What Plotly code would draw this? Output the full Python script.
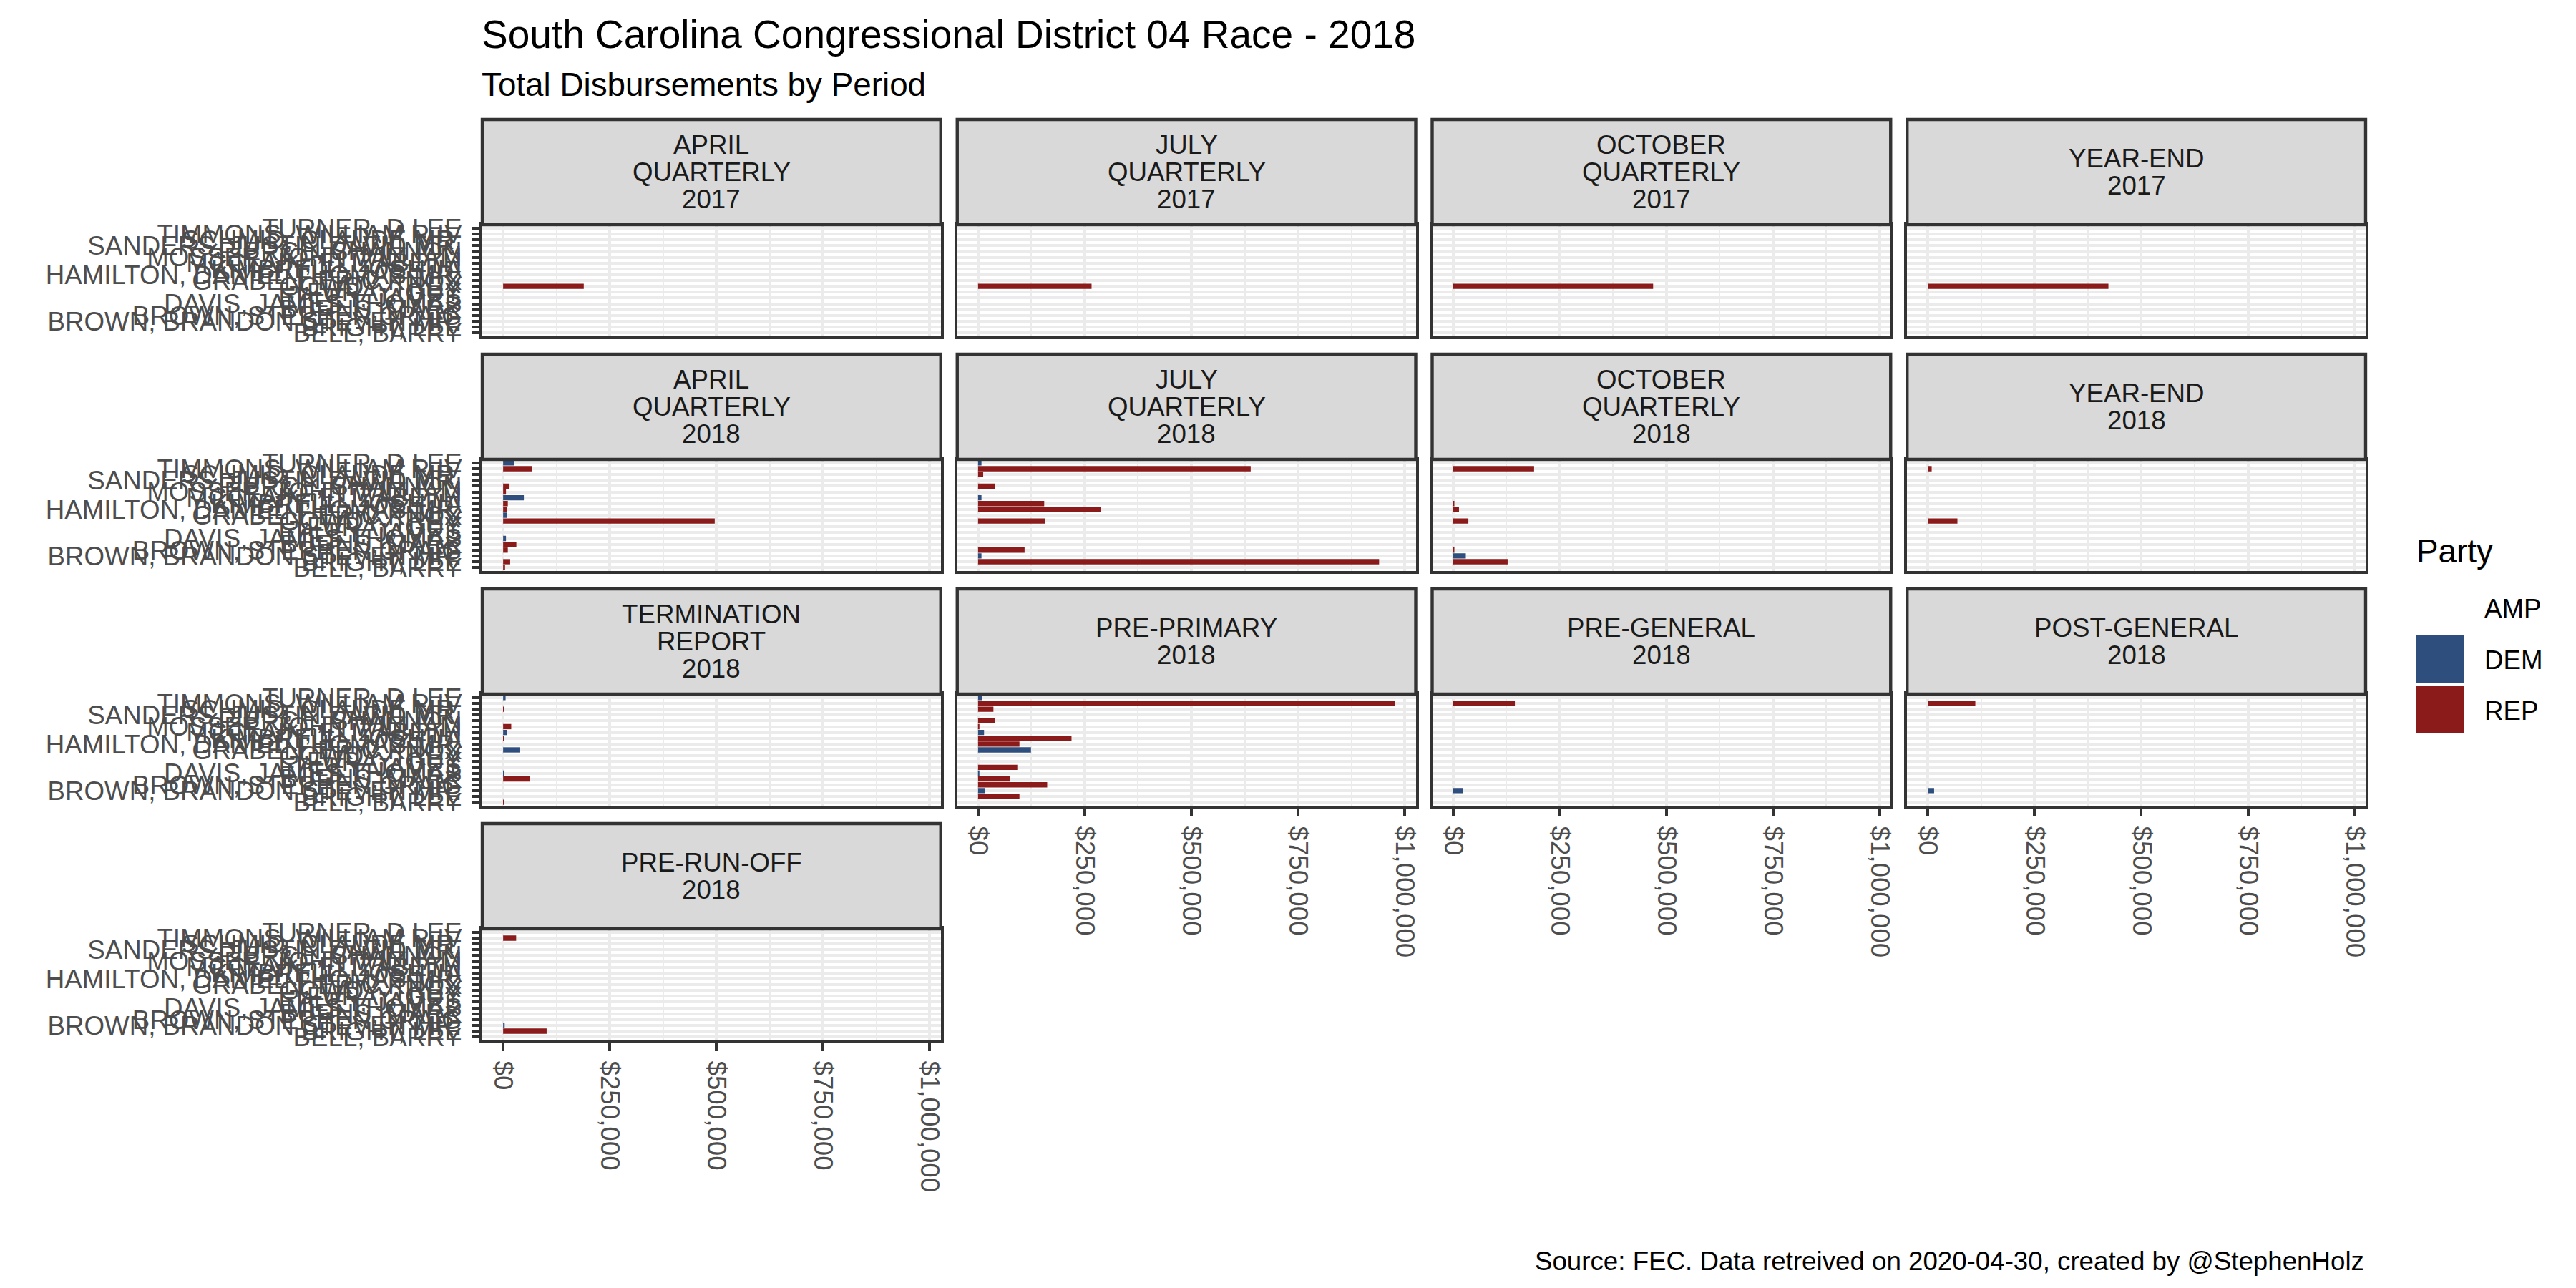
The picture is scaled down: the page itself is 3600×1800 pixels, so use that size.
import plotly.graph_objects as go

# ---------------- data ----------------
# candidates from bottom (first factor level) to top
candidates = [
    "BELL, BARRY",
    "BRIGHT, LEE",
    "BROWN, BRANDON STEVEN MR.",
    "BROWN, STEPHEN CRAIG",
    "BURNS, MARK",
    "DAVIS, JAMES THOMAS",
    "EPLEY, JAMES",
    "FURAY, GUY",
    "GOWDY, TREY",
    "GRABEN, ERIC KNOX",
    "HAMILTON, DANIEL THOMAS MR.",
    "KIMBRELL, JOSHUA",
    "MCCLAIN, ELIZABETH",
    "MOSSER, JOHN WILLIAM",
    "PIERCE, SHANNON",
    "SANDERS, JUSTIN DAVID MR.",
    "SCHMID, CLAUDE MR.",
    "TIMMONS, WILLIAM R IV",
    "TURNER, D LEE",
]
party = ["REP", "REP", "DEM", "REP", "REP", "DEM", "REP", "AMP", "REP", "DEM",
         "REP", "REP", "DEM", "REP", "REP", "REP", "REP", "REP", "DEM"]

#                 BELL  BRIGHT  BROWN_B BROWN_S BURNS  DAVIS  EPLEY FURAY GOWDY  GRABEN HAMILT KIMBR  MCCL   MOSSER PIERCE SAND SCHMID TIMMONS TURNER
apr_q_2017     = [0,    0,      0,      0,      0,     0,     0,    0,    189000, 0,    0,     0,     0,     0,     0,     0,   0,     0,      0]
jul_q_2017     = [0,    0,      0,      0,      0,     0,     0,    0,    266000, 0,    0,     0,     0,     0,     0,     0,   0,     0,      0]
oct_q_2017     = [0,    0,      0,      0,      0,     0,     0,    0,    469000, 0,    0,     0,     0,     0,     0,     0,   0,     0,      0]
ye_2017        = [0,    0,      0,      0,      0,     0,     0,    0,    423000, 0,    0,     0,     0,     0,     0,     0,   0,     0,      0]
apr_q_2018     = [4500, 16500,  0,      11000,  31000, 6700,  0,    0,    496000, 8200, 9700,  11000, 48600, 6700,  15000, 0,   0,     68000,  26000]
jul_q_2018     = [0,    940000, 8000,   109000, 0,     0,     0,    0,    157000, 0,    287000,155000,8000,  0,     39000, 0,   12000, 639000, 8000]
oct_q_2018     = [0,    128000, 30000,  3000,   0,     0,     0,    0,    36000,  0,    14000, 3000,  0,     0,     0,     0,   0,     190000, 0]
ye_2018        = [0,    0,      0,      0,      0,     0,     0,    0,    69000,  0,    0,     0,     0,     0,     0,     0,   0,     8700,   0]
term_2018      = [1000, 0,      0,      0,      63000, 1000,  0,    0,    0,      40000,0,     2900,  8700,  19000, 0,     0,   1400,  0,      5800]
pre_primary    = [0,    97000,  17000,  162000, 74000, 1500,  92000,0,    0,      124000,97000,219000,14000, 2000,  40000, 0,   36000, 977000, 10000]
pre_general    = [0,    0,      23000,  0,      0,     0,     0,    0,    0,      0,    0,     0,     0,     0,     0,     0,   0,     145000, 0]
post_general   = [0,    0,      14400,  0,      0,     0,     0,    0,    0,      0,    0,     0,     0,     0,     0,     0,   0,     111000, 0]
pre_runoff     = [0,    102000, 3600,   0,      0,     0,     0,    0,    0,      0,    0,     0,     0,     0,     0,     0,   0,     30500,  0]

period_labels = [
    "APRIL\nQUARTERLY\n2017", "JULY\nQUARTERLY\n2017", "OCTOBER\nQUARTERLY\n2017", "YEAR-END\n2017",
    "APRIL\nQUARTERLY\n2018", "JULY\nQUARTERLY\n2018", "OCTOBER\nQUARTERLY\n2018", "YEAR-END\n2018",
    "TERMINATION\nREPORT\n2018", "PRE-PRIMARY\n2018", "PRE-GENERAL\n2018", "POST-GENERAL\n2018",
    "PRE-RUN-OFF\n2018",
]
period_values = [apr_q_2017, jul_q_2017, oct_q_2017, ye_2017,
                 apr_q_2018, jul_q_2018, oct_q_2018, ye_2018,
                 term_2018, pre_primary, pre_general, post_general,
                 pre_runoff]

x_tickvals = [0, 250000, 500000, 750000, 1000000]
x_ticktext = ["$0", "$250,000", "$500,000", "$750,000", "$1,000,000"]
x_minor = [125000, 375000, 625000, 875000]

party_levels = ["AMP", "DEM", "REP"]
party_colors = {"AMP": "rgba(255,255,255,0)", "DEM": "#2E4E7E", "REP": "#8B1A1A"}

title = "South Carolina Congressional District 04 Race - 2018"
subtitle = "Total Disbursements by Period"
caption = "Source: FEC. Data retreived on 2020-04-30, created by @StephenHolz"

# ---------------- layout geometry (pixels) ----------------
W, H = 3600, 1800
OX, OY = -10, -5   # compensate page offset
FONT = "Liberation Sans"
col_left = [676, 1339.75, 2003.5, 2667.25]
panel_w = 640.75
panel_top = [311, 639, 967, 1295]
panel_h = 156
strip_h = 147
LW = 4.4


def fx(p):
    return (p + OX) / W


def fy(p):
    return 1 - (p + OY) / H


xmax = max(max(v) for v in period_values)
x_range = [-0.05 * xmax, 1.05 * xmax]

fig = go.Figure()
shapes = []
annotations = []
layout_axes = {}

n_panels = len(period_values)
for i in range(n_panels):
    r, c = divmod(i, 4)
    xa = "x" if i == 0 else f"x{i+1}"
    ya = "y" if i == 0 else f"y{i+1}"
    xkey = "xaxis" if i == 0 else f"xaxis{i+1}"
    ykey = "yaxis" if i == 0 else f"yaxis{i+1}"

    vals = period_values[i]
    xs = [v if v > 0 else None for v in vals]
    cols = [party_colors[p] for p in party]
    fig.add_trace(go.Bar(
        x=xs, y=candidates, orientation="h", width=0.9,
        marker=dict(color=cols, line=dict(width=0)),
        xaxis=xa, yaxis=ya, showlegend=False,
        hovertemplate="%{y}: %{x:$,.0f}<extra></extra>",
    ))

    x0 = col_left[c]
    x1 = x0 + panel_w
    yt = panel_top[r]
    yb = yt + panel_h

    is_bottom = (r == 3) or (r == 2 and c > 0)
    is_left = (c == 0)

    layout_axes[xkey] = dict(
        domain=[fx(x0), fx(x1)], anchor=ya, range=x_range,
        tickmode="array", tickvals=x_tickvals, ticktext=x_ticktext,
        showgrid=True, gridcolor="#EBEBEB", gridwidth=LW,
        minor=dict(tickmode="array", tickvals=x_minor, showgrid=True,
                   gridcolor="#EBEBEB", gridwidth=LW / 2, ticks=""),
        zeroline=False, showline=True, mirror=True, linecolor="#333333", linewidth=LW,
        ticks="outside" if is_bottom else "", ticklen=11, tickwidth=LW, tickcolor="#333333",
        showticklabels=is_bottom, tickangle=90,
        tickfont=dict(family=FONT, size=36.7, color="#4D4D4D"),
        ticklabelstandoff=6,
        automargin=False, fixedrange=True,
    )
    layout_axes[ykey] = dict(
        domain=[fy(yb), fy(yt)], anchor=xa, type="category",
        categoryorder="array", categoryarray=candidates,
        range=[-0.6, len(candidates) - 0.4],
        tickmode="array", tickvals=candidates, ticktext=candidates,
        showgrid=True, gridcolor="#EBEBEB", gridwidth=LW,
        zeroline=False, showline=True, mirror=True, linecolor="#333333", linewidth=LW,
        ticks="outside" if is_left else "", ticklen=11, tickwidth=LW, tickcolor="#333333",
        showticklabels=is_left,
        tickfont=dict(family=FONT, size=36.7, color="#4D4D4D"),
        ticklabelstandoff=6,
        automargin=False, fixedrange=True,
    )

    # strip
    st = yt - strip_h
    shapes.append(dict(type="rect", xref="paper", yref="paper",
                       x0=fx(x0), x1=fx(x1), y0=fy(yt), y1=fy(st),
                       fillcolor="#D9D9D9", line=dict(color="#333333", width=LW)))
    lines = period_labels[i].split("\n")
    spacing = 38
    center = st + strip_h / 2
    for k, ln in enumerate(lines):
        yc = center + (k - (len(lines) - 1) / 2) * spacing
        annotations.append(dict(text=ln, xref="paper", yref="paper",
                                x=fx((x0 + x1) / 2), y=fy(yc), xanchor="center", yanchor="middle",
                                showarrow=False,
                                font=dict(family=FONT, size=36.7, color="#1A1A1A")))

# titles
annotations.append(dict(text=title, xref="paper", yref="paper", x=fx(673), y=fy(45),
                        xanchor="left", yanchor="middle", showarrow=False,
                        font=dict(family=FONT, size=55, color="#000000")))
annotations.append(dict(text=subtitle, xref="paper", yref="paper", x=fx(673), y=fy(115),
                        xanchor="left", yanchor="middle", showarrow=False,
                        font=dict(family=FONT, size=45.8, color="#000000")))
annotations.append(dict(text=caption, xref="paper", yref="paper", x=fx(3308), y=fy(1759),
                        xanchor="right", yanchor="middle", showarrow=False,
                        font=dict(family=FONT, size=36.7, color="#000000")))

# legend (drawn manually)
annotations.append(dict(text="Party", xref="paper", yref="paper", x=fx(3377), y=fy(767),
                        xanchor="left", yanchor="middle", showarrow=False,
                        font=dict(family=FONT, size=45.8, color="#000000")))
key_top = [814, 885, 956]
for k, p in enumerate(party_levels):
    shapes.append(dict(type="rect", xref="paper", yref="paper",
                       x0=fx(3379), x1=fx(3445), y0=fy(key_top[k] + 66), y1=fy(key_top[k]),
                       fillcolor=party_colors[p], line=dict(width=0)))
    annotations.append(dict(text=p, xref="paper", yref="paper", x=fx(3472), y=fy(key_top[k] + 34),
                            xanchor="left", yanchor="middle", showarrow=False,
                            font=dict(family=FONT, size=36.7, color="#000000")))

fig.update_layout(
    width=W, height=H,
    margin=dict(l=0, r=0, t=0, b=0),
    paper_bgcolor="white", plot_bgcolor="white",
    barmode="overlay", showlegend=False,
    shapes=shapes, annotations=annotations,
    font=dict(family=FONT),
    **layout_axes,
)

fig.write_html("out.html")
